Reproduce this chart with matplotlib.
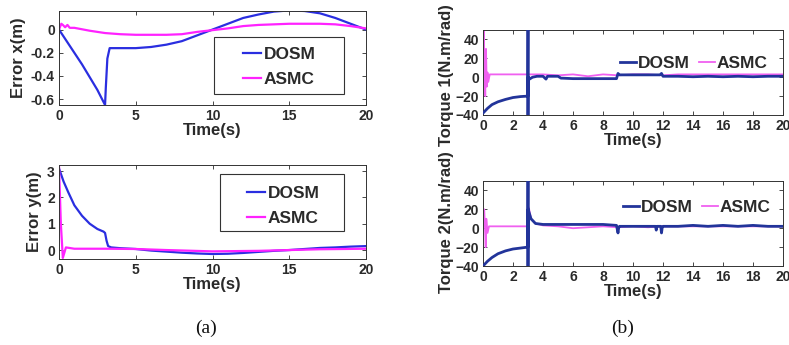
import matplotlib
matplotlib.use("Agg")
import matplotlib.pyplot as plt
from matplotlib.patches import Rectangle

# ---------------- data ----------------
t_ex_dosm = [0, 0.5, 1, 1.5, 2, 2.5, 3.0, 3.05, 3.15, 3.3, 4, 5, 6, 7, 8, 9, 10, 11, 12, 13, 14, 15, 16, 17, 18, 19, 20]
ex_dosm   = [0, -0.1, -0.2, -0.3, -0.41, -0.52, -0.65, -0.5, -0.25, -0.16, -0.16, -0.16, -0.15, -0.13, -0.1, -0.05, 0.0, 0.05, 0.1, 0.13, 0.155, 0.165, 0.16, 0.14, 0.1, 0.05, 0.0]
t_ex_asmc = [0, 0.15, 0.25, 0.4, 0.55, 0.7, 1, 2, 3, 4, 5, 6, 7, 8, 9, 10, 11, 12, 13, 14, 15, 16, 17, 18, 19, 20]
ex_asmc   = [0, 0.05, 0.04, 0.02, 0.04, 0.015, 0.015, -0.01, -0.03, -0.04, -0.045, -0.045, -0.045, -0.04, -0.02, -0.005, 0.01, 0.03, 0.04, 0.045, 0.05, 0.05, 0.05, 0.045, 0.03, 0.01]

t_ey_dosm = [0, 0.3, 0.6, 1, 1.5, 2, 2.5, 2.9, 3.0, 3.1, 3.2, 3.4, 4, 5, 6, 7, 8, 9, 10, 11, 12, 13, 14, 15, 16, 17, 18, 19, 20]
ey_dosm   = [3.1, 2.6, 2.2, 1.7, 1.3, 1.0, 0.8, 0.7, 0.65, 0.35, 0.15, 0.1, 0.07, 0.04, -0.02, -0.06, -0.1, -0.13, -0.15, -0.14, -0.11, -0.07, -0.03, 0.0, 0.04, 0.08, 0.1, 0.13, 0.15]
t_ey_asmc = [0, 0.12, 0.25, 0.35, 0.45, 1, 3, 5, 7, 10, 13, 15, 17, 20]
ey_asmc   = [3.2, 1.0, -0.3, -0.1, 0.1, 0.05, 0.05, 0.04, 0.0, -0.05, -0.03, 0.0, 0.03, 0.05]

t_t1_dosm = [0, 0.3, 0.6, 1.0, 1.5, 2.0, 2.5, 2.99, 3.0, 3.0, 3.01, 3.1, 3.3, 3.6, 4.0, 4.2, 4.3, 4.5, 5.0, 5.2, 5.3, 6, 7, 8, 8.9, 9.0, 9.1, 10, 11, 11.8, 11.9, 12, 13, 14, 15, 16, 17, 18, 19, 20]
t1_dosm   = [-38, -33, -29, -26, -23.5, -21.5, -20.5, -20, 50, -40, 0, -2, 0, 1, 1, -2, 1, 1, 1, -1, -1, -1.5, -1.5, -1.5, -1.5, 4, 2.5, 2.5, 2.5, 2.5, 4, 1, 1, 0.5, 1, 0.5, 1, 0.5, 1, 1]
t_t1_asmc = [0, 0.05, 0.1, 0.15, 0.2, 0.25, 0.3, 0.35, 0.45, 1, 3, 3.1, 4, 5, 6, 7, 8, 9, 10, 11, 12, 13, 14, 15, 16, 17, 18, 19, 20]
t1_asmc   = [0, 50, 10, -20, 30, -10, 5, -5, 3, 3, 3, 3, 3, 2, 3, 1, 3, 2, 3, 3, 2, 3, 3, 3, 3, 3, 3, 3, 3]

t_t2_dosm = [0, 0.3, 0.6, 1.0, 1.5, 2.0, 2.5, 2.99, 3.0, 3.0, 3.01, 3.2, 3.5, 4, 5, 6, 7, 8, 8.9, 9.0, 9.05, 9.1, 10, 11, 11.5, 11.55, 11.6, 11.85, 11.9, 11.95, 12, 13, 14, 15, 16, 17, 18, 19, 20]
t2_dosm   = [-40, -35, -31, -27, -24, -22, -21, -20, 50, -40, 20, 10, 5, 4, 4, 4, 4, 4, 3, -5, 1, 2, 2, 2, 2, -2, 2, 2, -5, 1, 2, 2, 3, 2, 3, 2, 3, 2, 2]
t_t2_asmc = [0, 0.08, 0.12, 0.18, 0.22, 0.3, 0.4, 0.5, 1, 2.98, 3.05, 3.2, 3.5, 4, 5, 6, 7, 8, 9, 10, 11, 12, 13, 14, 15, 16, 17, 18, 19, 20]
t2_asmc   = [0, 20, 5, -20, 10, -5, 2, 2, 2, 2, 22, 10, 5, 3, 2, 0, 1, 2, 1, 2, 1, 2, 2, 2, 2, 2, 2, 2, 2, 2]

labels = ["DOSM", "ASMC"]
xticks_left = [0, 5, 10, 15, 20]
xticks_right = [0, 2, 4, 6, 8, 10, 12, 14, 16, 18, 20]

# ---------------- style ----------------
plt.rcParams['font.family'] = ['Liberation Sans', 'DejaVu Sans']
plt.rcParams['font.weight'] = 'bold'
TXT = '#2a2a2a'
blue_l = '#2a2ee0'
mag_l = '#ff22ff'
blue_r = '#22349a'
mag_r = '#f060f0'
TICK_FS = 10
LAB_FS = 12
LEG_FS = 12.5

W, H = 789, 345
fig = plt.figure(figsize=(W / 100, H / 100), dpi=100)

def make_ax(x0, y0, x1, y1):
    ax = fig.add_axes([x0 / W, 1 - y1 / H, (x1 - x0) / W, (y1 - y0) / H])
    ax._px = (x0, y0, x1 - x0, y1 - y0)
    return ax

def to_axes(ax, px, py):
    x0, y0, w, h = ax._px
    return (px - x0) / w, 1 - (py - y0) / h

def style(ax):
    ax.tick_params(direction='in', length=3, width=0.6, labelsize=TICK_FS, pad=3,
                   top=True, right=True, colors=TXT)
    for lbl in ax.get_xticklabels() + ax.get_yticklabels():
        lbl.set_fontweight('bold')
        lbl.set_color(TXT)
    for s in ax.spines.values():
        s.set_linewidth(0.7)
        s.set_color('#333333')

def box_legend(ax, cx, cy, bx0, by0, bx1, by1):
    leg = ax.legend(loc='center', bbox_to_anchor=to_axes(ax, cx, cy), fontsize=LEG_FS,
                    frameon=False, handlelength=1.05, handletextpad=0.15, labelspacing=0.6,
                    borderpad=0.2)
    for tx in leg.get_texts():
        tx.set_color(TXT)
    ax0, ay1 = to_axes(ax, bx0, by0)
    ax1_, ay0 = to_axes(ax, bx1, by1)
    ax.add_patch(Rectangle((ax0, ay0), ax1_ - ax0, ay1 - ay0, transform=ax.transAxes,
                           fill=False, edgecolor='#333333', lw=0.8, zorder=10))

def row_legend(ax, cx, cy):
    leg = ax.legend(loc='center', bbox_to_anchor=to_axes(ax, cx, cy), ncol=2, fontsize=LEG_FS,
                    frameon=False, handlelength=0.9, handletextpad=0.12, columnspacing=0.55,
                    borderpad=0.1)
    for tx in leg.get_texts():
        tx.set_color(TXT)

# Panel a1
ax1 = make_ax(59, 11, 366, 105)
ax1.plot(t_ex_dosm, ex_dosm, color=blue_l, lw=1.6, label=labels[0])
ax1.plot(t_ex_asmc, ex_asmc, color=mag_l, lw=1.6, label=labels[1])
ax1.set_xlim(0, 20); ax1.set_ylim(-0.65, 0.16)
ax1.set_xticks(xticks_left); ax1.set_yticks([0, -0.2, -0.4, -0.6])
ax1.set_yticklabels(['0', '-0.2', '-0.4', '-0.6'])
ax1.set_xlabel('Time(s)', fontsize=LAB_FS, fontweight='bold', color=TXT, labelpad=0)
ax1.set_ylabel('Error x(m)', fontsize=LAB_FS, fontweight='bold', color=TXT)
ax1.yaxis.set_label_coords(*to_axes(ax1, 26, 58))
style(ax1)
box_legend(ax1, 279, 67, 214, 37, 344, 94)

# Panel a2
ax2 = make_ax(59, 165, 366, 259)
ax2.plot(t_ey_dosm, ey_dosm, color=blue_l, lw=1.6, label=labels[0])
ax2.plot(t_ey_asmc, ey_asmc, color=mag_l, lw=1.6, label=labels[1])
ax2.set_xlim(0, 20); ax2.set_ylim(-0.34, 3.23)
ax2.set_xticks(xticks_left); ax2.set_yticks([0, 1, 2, 3])
ax2.set_xlabel('Time(s)', fontsize=LAB_FS, fontweight='bold', color=TXT, labelpad=0)
ax2.set_ylabel('Error y(m)', fontsize=LAB_FS, fontweight='bold', color=TXT)
ax2.yaxis.set_label_coords(*to_axes(ax2, 42, 212))
style(ax2)
box_legend(ax2, 283, 206, 220, 174, 344, 231)

# Panel b1
ax3 = make_ax(483, 30, 783, 115)
ax3.plot(t_t1_dosm, t1_dosm, color=blue_r, lw=2.0, label=labels[0], zorder=3)
ax3.plot(t_t1_asmc, t1_asmc, color=mag_r, lw=1.3, label=labels[1], zorder=2)
ax3.set_xlim(0, 20); ax3.set_ylim(-40, 50)
ax3.set_xticks(xticks_right); ax3.set_yticks([-40, -20, 0, 20, 40])
ax3.set_xlabel('Time(s)', fontsize=LAB_FS, fontweight='bold', color=TXT, labelpad=0)
ax3.set_ylabel('Torque 1(N.m/rad)', fontsize=LAB_FS, fontweight='bold', color=TXT)
ax3.yaxis.set_label_coords(*to_axes(ax3, 454, 75))
style(ax3)
row_legend(ax3, 694, 63)

# Panel b2
ax4 = make_ax(483, 181, 783, 266)
ax4.plot(t_t2_dosm, t2_dosm, color=blue_r, lw=2.0, label=labels[0], zorder=3)
ax4.plot(t_t2_asmc, t2_asmc, color=mag_r, lw=1.3, label=labels[1], zorder=2)
ax4.set_xlim(0, 20); ax4.set_ylim(-40, 50)
ax4.set_xticks(xticks_right); ax4.set_yticks([-40, -20, 0, 20, 40])
ax4.set_xlabel('Time(s)', fontsize=LAB_FS, fontweight='bold', color=TXT, labelpad=0)
ax4.set_ylabel('Torque 2(N.m/rad)', fontsize=LAB_FS, fontweight='bold', color=TXT)
ax4.yaxis.set_label_coords(*to_axes(ax4, 454, 222))
style(ax4)
row_legend(ax4, 697, 207)

fig.text(206 / W, 1 - 328 / H, '(a)', fontsize=14, family=['Liberation Serif'], fontweight='normal',
         ha='center', va='center', color='#111111')
fig.text(623 / W, 1 - 328 / H, '(b)', fontsize=14, family=['Liberation Serif'], fontweight='normal',
         ha='center', va='center', color='#111111')

fig.savefig('out.png', dpi=100)
